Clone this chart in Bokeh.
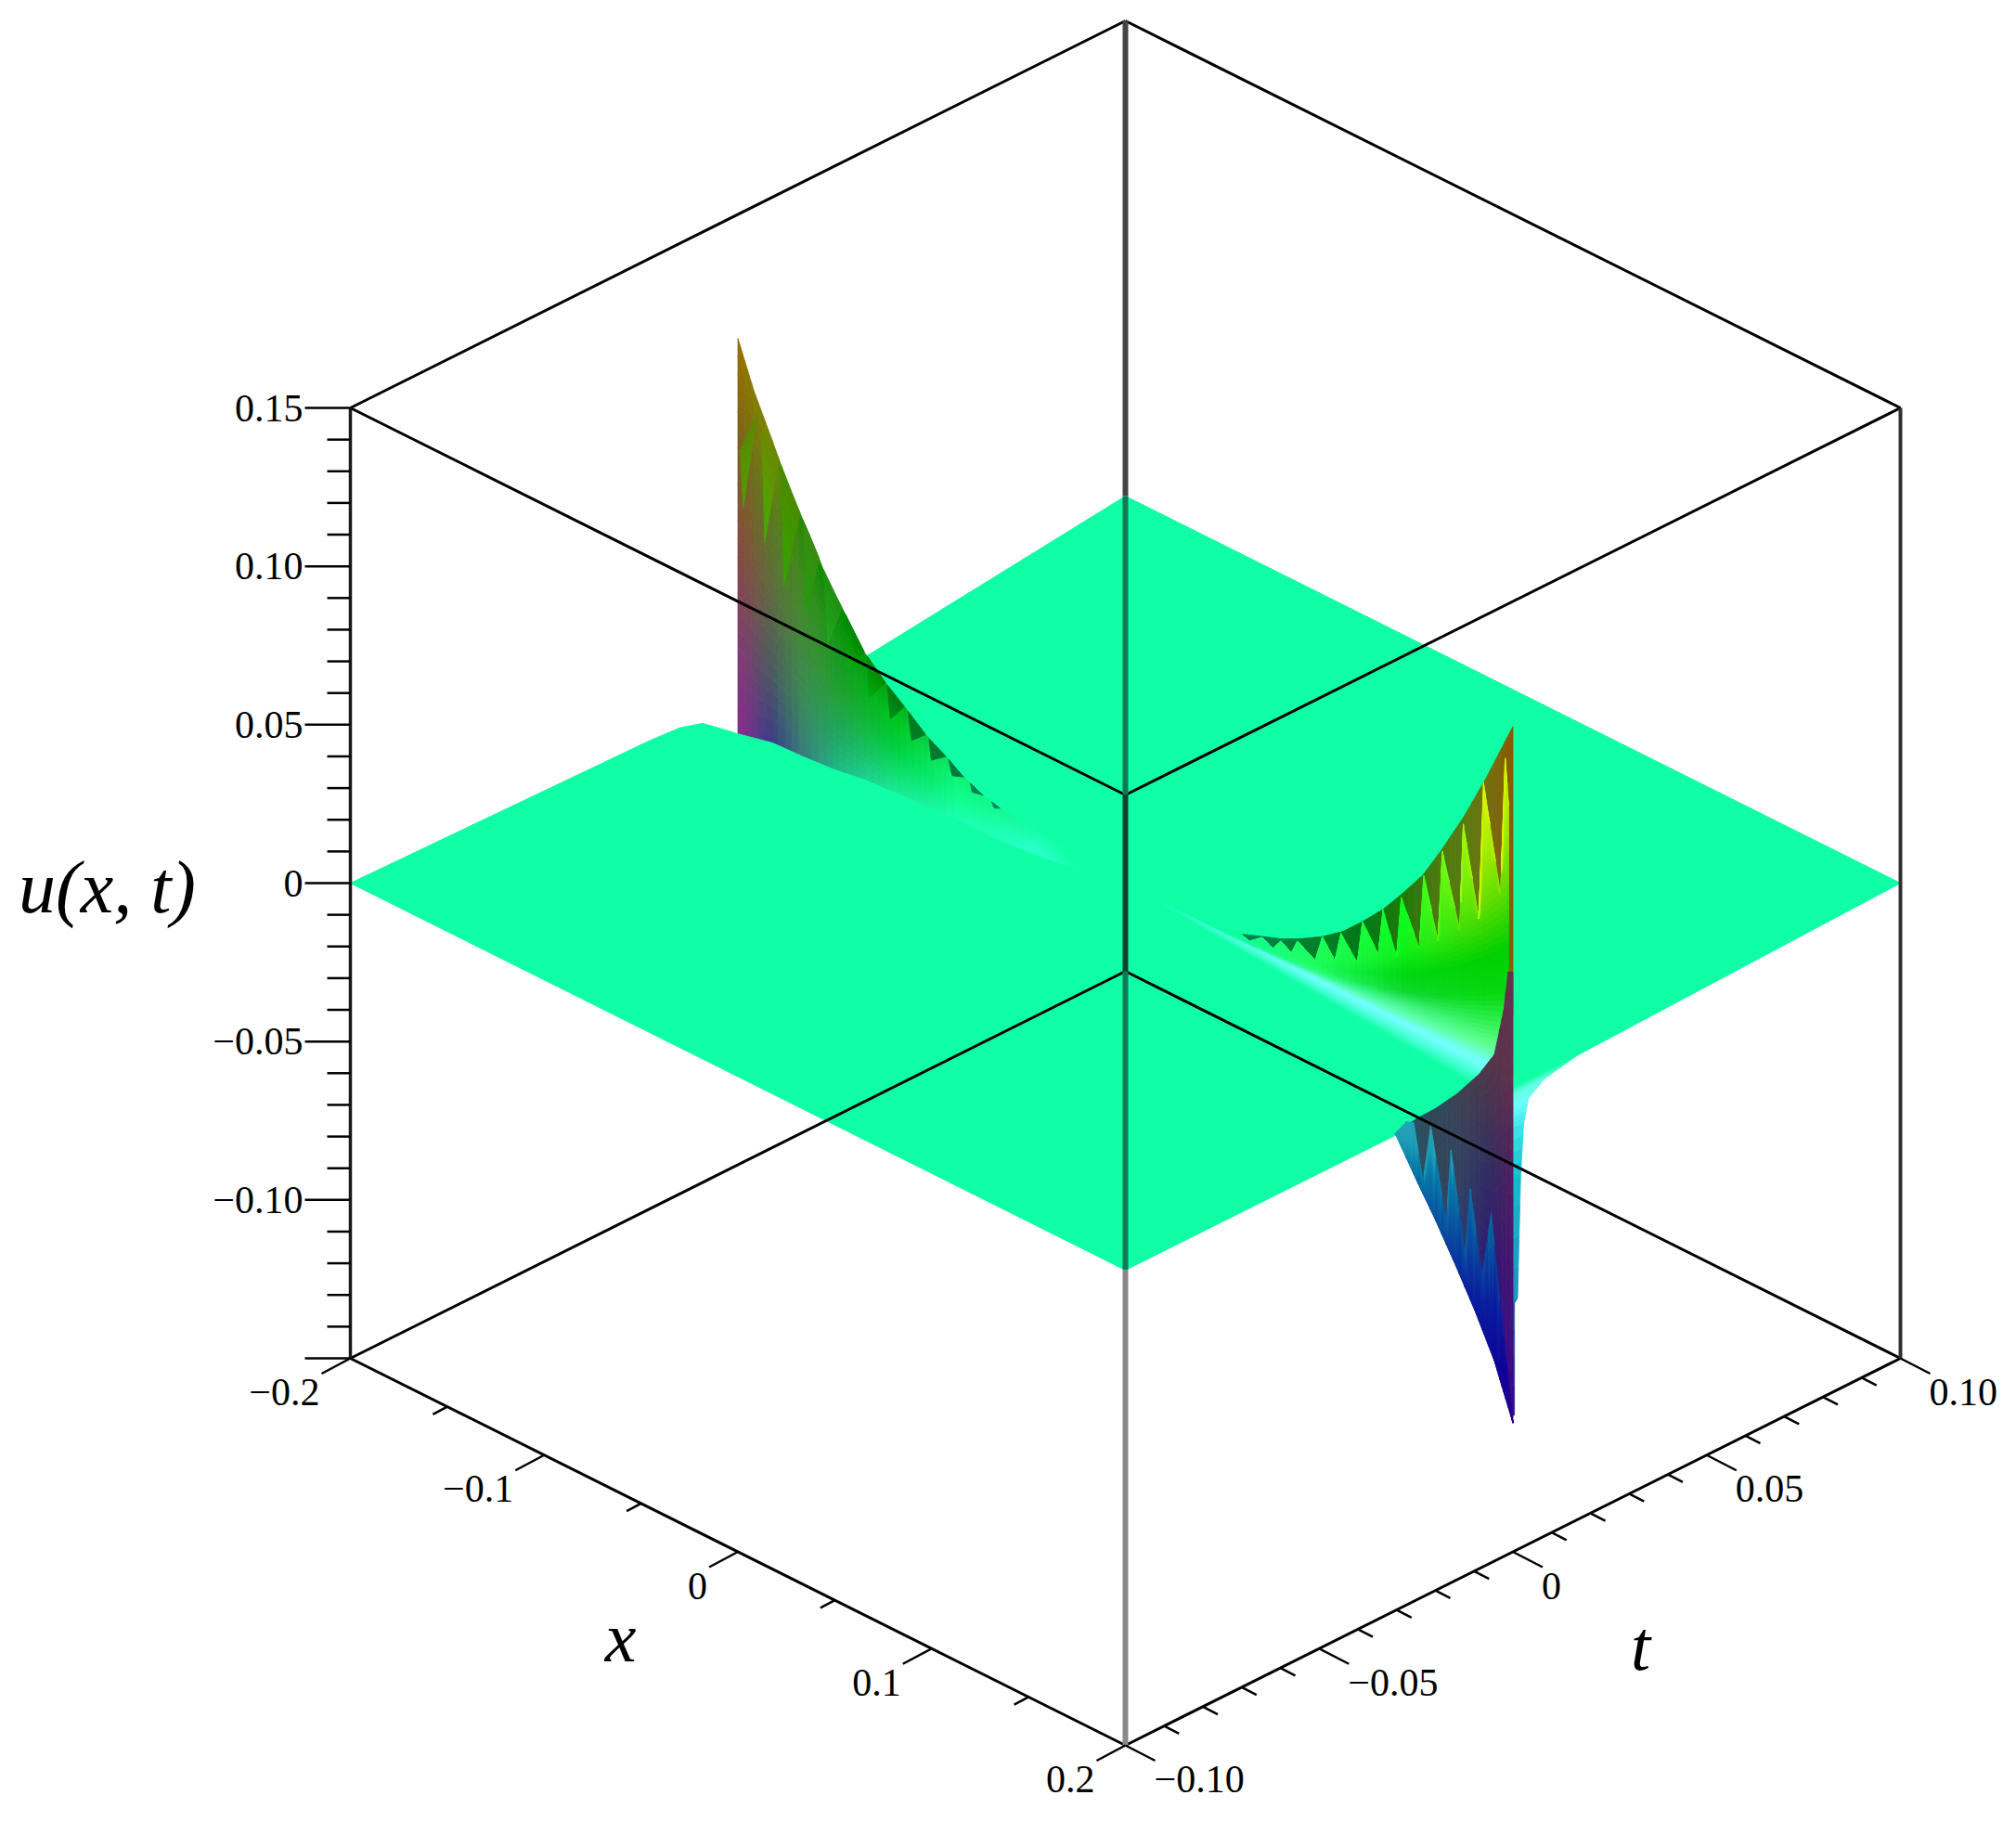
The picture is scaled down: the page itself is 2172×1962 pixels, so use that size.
from bokeh.plotting import figure
from bokeh.models import Range1d
from bokeh.embed import file_html
from bokeh.resources import INLINE
import numpy as np

# ---------- axis data ----------
x_limits = [-0.2, 0.2]
t_limits = [-0.10, 0.10]
u_limits = [-0.15, 0.15]
u_minor = [round(-0.15 + 0.01 * i, 2) for i in range(31)]
u_major = [-0.15, -0.10, -0.05, 0.0, 0.05, 0.10, 0.15]
u_labels = {0.15: "0.15", 0.10: "0.10", 0.05: "0.05", 0.0: "0", -0.05: "\u22120.05", -0.10: "\u22120.10"}
x_ticks = [-0.2, -0.15, -0.1, -0.05, 0.0, 0.05, 0.1, 0.15, 0.2]
x_labels = {-0.2: "\u22120.2", -0.1: "\u22120.1", 0.0: "0", 0.1: "0.1", 0.2: "0.2"}
t_ticks = [round(-0.10 + 0.01 * i, 2) for i in range(21)]
t_labels = {-0.10: "\u22120.10", -0.05: "\u22120.05", 0.0: "0", 0.05: "0.05", 0.10: "0.10"}

# ---------- surface data (u along the singular line t = 0) ----------
left_sil_x = [-0.2, -0.1918, -0.1823, -0.1727, -0.1631, -0.1535, -0.1439, -0.1343, -0.1247, -0.1132,
              -0.1022, -0.0926, -0.083, -0.0734, -0.0624, -0.046, -0.0221]
left_sil_u = [0.1109, 0.0969, 0.0841, 0.0707, 0.0602, 0.0484, 0.0402, 0.0314, 0.0258, 0.0205,
              0.015, 0.0117, 0.0079, 0.0053, 0.0037, 0.002, 0.0]
front_x = [-0.2, -0.1823, -0.166, -0.1501, -0.1343, -0.118, -0.1022, -0.0863, -0.07, -0.0542, -0.0384, -0.01, 0.0]
front_u = [-0.0138, -0.0114, -0.0109, -0.0101, -0.0085, -0.0078, -0.0073, -0.0066, -0.0066, -0.0059, -0.0047, -0.002, 0.0]
edge_t = [-0.1, -0.0229, -0.015, -0.0091, -0.0031, -0.0002]
edge_u = [0.0, -0.0022, -0.0029, -0.0051, -0.0109, -0.0138]
wedge_left_x = [-0.1989, -0.1877, -0.1776, -0.1664, -0.1558, -0.1445, -0.1333, -0.1229, -0.1122, -0.1014, -0.0913, -0.08, -0.069]
wedge_left_u = [0.0757, 0.0852, 0.0775, 0.0638, 0.0514, 0.0406, 0.031, 0.025, 0.02, 0.0147, 0.0112, 0.0071, 0.0046]
wedge_tip_x = [-0.1973, -0.1861, -0.1762, -0.1645, -0.1536, -0.1429, -0.1325, -0.1213, -0.1103, -0.1002, -0.0894, -0.0791, -0.0678]
wedge_tip_u = [0.0582, 0.0509, 0.04, 0.034, 0.0283, 0.0237, 0.0179, 0.0147, 0.0113, 0.0082, 0.0066, 0.0046, 0.0031]
wedge_right_x = [-0.19, -0.1792, -0.1679, -0.1581, -0.1463, -0.1349, -0.1237, -0.1141, -0.1031, -0.0926, -0.0834, -0.0734, -0.0647]
wedge_right_u = [0.0901, 0.0778, 0.0655, 0.0544, 0.0422, 0.0319, 0.0255, 0.0209, 0.0154, 0.0117, 0.008, 0.0053, 0.0039]
wedge_top_col = ["#5a8a00", "#6a8a00", "#4a8a00", "#3a8a10", "#209010", "#008800", "#008a00", "#007a10", "#007a20", "#007a30", "#007a40", "#008050", "#008858"]
wedge_tip_col = ["#50a000", "#40b000", "#30a800", "#20a010", "#20a820", "#10b010", "#00b010", "#009020", "#00802a", "#007a30", "#007a40", "#008050", "#008858"]

right_sil_x = [0.02, 0.05, 0.0595, 0.0705, 0.0801, 0.0897, 0.1017, 0.1122, 0.1223, 0.1329, 0.1424, 0.1535, 0.163, 0.1746, 0.1856, 0.2]
right_sil_u = [0.0, 0.0006, 0.0021, 0.0047, 0.0069, 0.0098, 0.0142, 0.019, 0.0252, 0.0323, 0.0399, 0.0494, 0.0601, 0.0742, 0.0892, 0.1105]
right_saw_x = [0.0595, 0.0641, 0.0705, 0.0761, 0.0801, 0.0857, 0.0888, 0.098, 0.1017, 0.1081, 0.1113, 0.1197, 0.1224, 0.1305, 0.1329,
               0.14, 0.1424, 0.1517, 0.154, 0.1613, 0.1636, 0.1725, 0.1744, 0.1824, 0.1848, 0.1936, 0.196, 0.1978, 0.198, 0.2]
right_saw_u = [0.0021, 0.0012, 0.0044, 0.0026, 0.0062, 0.0042, 0.0088, 0.0055, 0.0142, 0.0085, 0.0181, 0.0114, 0.0253, 0.0173, 0.0323,
               0.0195, 0.039, 0.0258, 0.0495, 0.0311, 0.0601, 0.0379, 0.0719, 0.0445, 0.0882, 0.0556, 0.0993, 0.085, 0.02, 0.02]
ridge_x = [0.02, 0.1, 0.19, 0.2]
ridge_low_u = [-0.001, -0.005, -0.009, -0.009]
wall_top_x = [0.1393, 0.1505, 0.16, 0.1712, 0.1824, 0.1904, 0.1952, 0.1976, 0.2]
wall_top_u = [-0.0364, -0.0283, -0.0223, -0.0142, -0.0047, 0.004, 0.0192, 0.0323, 0.033]
down_sil_x = [0.1393, 0.1506, 0.1602, 0.1712, 0.1808, 0.1904, 0.2]
down_sil_u = [-0.0365, -0.0482, -0.0576, -0.0694, -0.0803, -0.0926, -0.1093]
blue_saw_x = [0.1393, 0.145, 0.1488, 0.1536, 0.1576, 0.1656, 0.168, 0.1752, 0.178, 0.184, 0.1888, 0.1944, 0.2]
blue_saw_u = [-0.0364, -0.031, -0.0302, -0.0473, -0.0285, -0.0566, -0.0329, -0.0636, -0.0421, -0.0679, -0.0464, -0.0792, -0.1093]
band_t = [0.0167, 0.008, 0.004, 0.0028, 0.002, 0.0012, 0.0004, 0.0004]
band_u = [-0.0034, -0.0057, -0.0094, -0.0163, -0.032, -0.0706, -0.0717, -0.107]
band_col = ["#10ffa6", "#60ffe0", "#70ffff", "#40e8e8", "#10c0d0", "#2090c0", "#2060b0", "#301890"]

# ---------- colours ----------
PLANE = "#10ffa6"
left_col_x = [-0.2, -0.1823, -0.166, -0.147, -0.118, -0.0863, -0.045, -0.022]
left_col_f = [0.0, 0.25, 0.5, 0.75, 1.0]
left_cols = [["#8f2a90", "#853a70", "#8a4a3e", "#80601a", "#9a7000"],
             ["#383a8c", "#4a5a60", "#5f6a40", "#5a7a20", "#708a00"],
             ["#3a7a80", "#3a8a5a", "#3f8a3a", "#3f8a20", "#208800"],
             ["#20c090", "#20a860", "#20a030", "#109818", "#008a00"],
             ["#20f0a8", "#10e070", "#00d040", "#00c820", "#00a818"],
             ["#20ffc0", "#18ffa8", "#10ff90", "#10f880", "#10f070"],
             ["#30ffd0", "#30ffd0", "#28ffc8", "#20ffb8", "#18ffb0"],
             ["#10ffa6", "#10ffa6", "#10ffa6", "#10ffa6", "#10ffa6"]]
bright_col_x = [0.02, 0.05, 0.096, 0.144, 0.187, 0.2]
bright_col_f = [0.0, 0.07, 0.15, 0.24, 0.37, 0.55, 0.75, 1.0]
bright_cols = [["#20ffc0", "#10ffa6", "#10ffa6", "#10ffa6", "#10ffa6", "#10ffa6", "#10ffa6", "#10ffa6"],
               ["#50ffe0", "#20ffc8", "#10ffb0", "#10ffa8", "#10ffa8", "#10ffa8", "#10ffa8", "#10ffa8"],
               ["#70ffff", "#60ffd0", "#30ff90", "#28ff70", "#20ff60", "#20ff60", "#20ff60", "#20ff60"],
               ["#78ffff", "#60ffb0", "#40f080", "#10d830", "#00d810", "#10f018", "#10f820", "#10ff20"],
               ["#78ffff", "#60ff90", "#30f050", "#08d810", "#00d000", "#60dc00", "#a8ec00", "#e8f800"],
               ["#78ffff", "#60ff90", "#30f050", "#08d810", "#00d000", "#60dc00", "#a8ec00", "#e8f800"]]
back_col_x = [0.02, 0.05, 0.08, 0.096, 0.12, 0.144, 0.16, 0.178, 0.19, 0.2]
back_cols = ["#10ffa6", "#008a60", "#008040", "#00802a", "#007818", "#207a08", "#4a7a10", "#5f7a10", "#7a6a10", "#8a5a00"]
wall_col_x = [0.14, 0.16, 0.176, 0.187, 0.2]
wall_col_u = [-0.11, -0.08, -0.06, -0.03, 0.0, 0.035]
wall_cols = [["#205a70", "#205a70", "#205a70", "#205a70", "#1a5a70", "#1a5a70"],
             ["#304858", "#304858", "#304858", "#304858", "#304858", "#304858"],
             ["#2a1080", "#283a70", "#283a70", "#384060", "#4a4048", "#4a4048"],
             ["#2a0090", "#2a1080", "#301870", "#303060", "#503848", "#503848"],
             ["#3a0090", "#401080", "#451570", "#502060", "#603050", "#6a3050"]]
blue_u = [-0.11, -0.097, -0.075, -0.058, -0.045, -0.037, -0.02]
blue_cols = ["#300090", "#100098", "#0a20a0", "#0a50a0", "#0878a8", "#20a0b8", "#30a8c0"]

# ---------- projection of the box view ----------
CX, CY = 1212.0, 951.0
XV = (417.5, 208.5)
TV = (417.5, -208.5)
UV = 512.0


def P(x, t, u):
    x, t, u = np.asarray(x, float), np.asarray(t, float), np.asarray(u, float)
    return (CX + XV[0] * x / 0.2 + TV[0] * t / 0.1,
            CY + XV[1] * x / 0.2 + TV[1] * t / 0.1 - UV * u / 0.15)


def rgb(h):
    return np.array([int(h[1:3], 16), int(h[3:5], 16), int(h[5:7], 16)], float)


def to_hex(c):
    c = np.clip(np.round(c), 0, 255).astype(int)
    return "#%02x%02x%02x" % (c[0], c[1], c[2])


def table_colour(xq, rq, xs, rs, tab):
    col = []
    for row in tab:
        arr = np.array([rgb(h) for h in row])
        col.append([np.interp(rq, rs, arr[:, k]) for k in range(3)])
    col = np.array(col)
    return np.array([np.interp(xq, xs, col[:, k]) for k in range(3)])


def list_colour(q, qs, cols):
    arr = np.array([rgb(h) for h in cols])
    return np.array([np.interp(q, qs, arr[:, k]) for k in range(3)])


p = figure(width=2156, height=1946, x_range=Range1d(0, 2156), y_range=Range1d(1946, 0),
           output_backend="svg", toolbar_location=None, min_border=0)
p.axis.visible = False
p.grid.visible = False
p.outline_line_color = None
p.background_fill_color = "white"
p.border_fill_color = "white"


def draw_patches(polys, cols):
    xs, ys = [], []
    for (X, Y) in polys:
        xs.append(list(map(float, X)))
        ys.append(list(map(float, Y)))
    p.patches(xs, ys, fill_color=cols, line_color=cols, line_width=0.8)


def mesh(grid, low, high, nrows, colour, t=0.0):
    polys, cols = [], []
    for i in range(len(grid) - 1):
        x0, x1 = grid[i], grid[i + 1]
        if x1 - x0 < 1e-9:
            continue
        for j in range(nrows):
            a, b = j / nrows, (j + 1) / nrows
            l0, h0, l1, h1 = low[i], high[i], low[i + 1], high[i + 1]
            if h0 <= l0 and h1 <= l1:
                continue
            us = [l0 + (h0 - l0) * a, l1 + (h1 - l1) * a, l1 + (h1 - l1) * b, l0 + (h0 - l0) * b]
            X, Y = P([x0, x1, x1, x0], [t] * 4, us)
            polys.append((X, Y))
            cols.append(to_hex(colour((x0 + x1) / 2, np.mean(us), (a + b) / 2)))
    draw_patches(polys, cols)


# far sheet (t > 0)
far_x = [-0.2, -0.2, 0.2, 0.2, 0.2, 0.0]
far_t = [0.0, 0.1, 0.1, 0.0167, 0.0, 0.0]
far_u = [-0.0145, 0.0, 0.0, -0.0034, -0.004, -0.004]
X, Y = P(far_x, far_t, far_u)
p.patch(list(X), list(Y), fill_color=PLANE, line_color=PLANE, line_width=1)

# left raised sheet
g = np.unique(np.concatenate([left_sil_x, np.arange(-0.2, -0.02, 0.0035)]))
top = np.interp(g, left_sil_x, left_sil_u)
low = np.interp(g, front_x, front_u) - 0.002
mesh(g, low, top, 22, lambda x, u, f: table_colour(x, f, left_col_x, left_col_f, left_cols))
for i in range(len(wedge_tip_x)):
    tip = np.array([wedge_tip_x[i], wedge_tip_u[i]])
    a = np.array([wedge_left_x[i], wedge_left_u[i]])
    b = np.array([wedge_right_x[i], wedge_right_u[i]])
    polys, cols = [], []
    n = 6
    for k in range(n):
        s0, s1 = k / n, (k + 1) / n
        pts = [tip + (a - tip) * s0, tip + (b - tip) * s0, tip + (b - tip) * s1, tip + (a - tip) * s1]
        X, Y = P([q[0] for q in pts], [0.0] * 4, [q[1] for q in pts])
        polys.append((X, Y))
        mix = (s0 + s1) / 2
        cols.append(to_hex(rgb(wedge_tip_col[i]) * (1 - mix) + rgb(wedge_top_col[i]) * mix))
    draw_patches(polys, cols)

# near sheet (t < 0)
nx = [-0.2] * len(edge_t) + front_x[1:] + [0.2, 0.2]
nt = edge_t + [0.0] * (len(front_x) - 1) + [0.0, -0.1]
nu = edge_u + front_u[1:] + [0.0, 0.0]
X, Y = P(nx, nt, nu)
p.patch(list(X), list(Y), fill_color=PLANE, line_color=PLANE, line_width=1)

# right raised sheet: dark backing between silhouette and teeth
g = np.unique(np.concatenate([right_sil_x, right_saw_x, np.arange(0.02, 0.2, 0.003)]))
sil = np.interp(g, right_sil_x, right_sil_u)
saw = np.minimum(np.interp(g, right_saw_x, right_saw_u), sil)
back_low = saw - 0.0005
keep = g >= 0.05
mesh(g[keep], back_low[keep], sil[keep], 1, lambda x, u, f: list_colour(x, back_col_x, back_cols))

# bright part: fade below the ridge, then constant-fraction levels clipped by the teeth
ridge_low = np.interp(g, ridge_x, ridge_low_u)


def cyan_fade(x, u):
    cy = table_colour(x, 0.0, bright_col_x, bright_col_f, bright_cols)
    lo = float(np.interp(x, ridge_x, ridge_low_u))
    m = min(1.0, (u / lo)) ** 1.3
    return cy * (1 - m) + rgb(PLANE) * m


mesh(g, ridge_low, np.zeros_like(g), 8, lambda x, u, f: cyan_fade(x, u))
top_b = np.where(g < 0.0595, sil, saw)
levels = np.linspace(0, 1, 51) ** 1.4
polys, cols = [], []
for i in range(len(g) - 1):
    x0, x1 = g[i], g[i + 1]
    if x0 >= 0.1975:
        continue
    for j in range(len(levels) - 1):
        f0, f1 = levels[j], levels[j + 1]
        a0, a1 = f0 * sil[i], f0 * sil[i + 1]
        b0, b1 = f1 * sil[i], f1 * sil[i + 1]
        if a0 >= top_b[i] and a1 >= top_b[i + 1]:
            continue
        us = [min(a0, top_b[i]), min(a1, top_b[i + 1]), min(b1, top_b[i + 1]), min(b0, top_b[i])]
        X, Y = P([x0, x1, x1, x0], [0.0] * 4, us)
        polys.append((X, Y))
        cols.append(to_hex(table_colour((x0 + x1) / 2, (f0 + f1) / 2, bright_col_x, bright_col_f, bright_cols)))
draw_patches(polys, cols)

# band beyond the edge x = 0.2
polys, cols = [], []
for i in range(len(band_t) - 1):
    for k in range(4):
        a, b = k / 4, (k + 1) / 4
        u0 = band_u[i] + (band_u[i + 1] - band_u[i]) * a
        u1 = band_u[i] + (band_u[i + 1] - band_u[i]) * b
        t0 = band_t[i] + (band_t[i + 1] - band_t[i]) * a
        t1 = band_t[i] + (band_t[i + 1] - band_t[i]) * b
        X, Y = P([0.2] * 4, [0.0, t0, t1, 0.0], [u0, u0, u1, u1])
        polys.append((X, Y))
        cols.append(to_hex(rgb(band_col[i]) * (1 - (a + b) / 2) + rgb(band_col[i + 1]) * (a + b) / 2))
draw_patches(polys, cols)

# dark wall and downward spike
g = np.unique(np.concatenate([wall_top_x, down_sil_x, blue_saw_x, np.arange(0.1393, 0.2, 0.003)]))
wtop = np.interp(g, wall_top_x, wall_top_u)
wlow = np.interp(g, down_sil_x, down_sil_u)
mesh(g, wlow, wtop, 20, lambda x, u, f: table_colour(x, u, wall_col_x, wall_col_u, wall_cols))
bsaw = np.interp(g, blue_saw_x, blue_saw_u)
mesh(g, wlow, bsaw, 12, lambda x, u, f: list_colour(u, blue_u, blue_cols))

# ---------- box ----------
x0, x1 = x_limits
t0, t1 = t_limits
u0, u1 = u_limits
edges = [((x0, t1, u1), (x0, t0, u1)), ((x0, t1, u1), (x1, t1, u1)),
         ((x0, t0, u1), (x1, t0, u1)), ((x1, t1, u1), (x1, t0, u1)),
         ((x0, t1, u0), (x0, t0, u0)), ((x0, t1, u0), (x1, t1, u0)),
         ((x0, t0, u0), (x1, t0, u0)), ((x1, t1, u0), (x1, t0, u0))]
for a, b in edges:
    X, Y = P(*zip(a, b))
    p.line(list(X), list(Y), line_color="black", line_width=3)
X, Y = P([x0, x0], [t0, t0], [u0, u1])
p.line(list(X), list(Y), line_color="#1a1a1a", line_width=3.5)
X, Y = P([x1, x1], [t1, t1], [u0, u1])
p.line(list(X), list(Y), line_color="#303030", line_width=4)

# the two central vertical edges, as they show against the sheet
vert_segments = [((x0, t1, u1), (x0, t1, 0.0), "#444444"),
                 ((x0, t1, 0.0), (x1, t0, u1), "#107a58"),
                 ((x1, t0, u1), (x0, t1, u0), "#0f4030"),
                 ((x0, t1, u0), (x1, t0, 0.0), "#107a58"),
                 ((x1, t0, 0.0), (x1, t0, u0), "#888888")]
for a, b, c in vert_segments:
    X, Y = P(*zip(a, b))
    p.line(list(X), list(Y), line_color=c, line_width=6)

# u ticks
for v in u_minor:
    major = any(abs(v - m) < 1e-6 for m in u_major)
    X, Y = P(x0, t0, v)
    L = 49 if major else 25
    p.line([float(X) - L, float(X)], [float(Y), float(Y)], line_color="black", line_width=2.5)
lx, ly, lt = [], [], []
for v, s in u_labels.items():
    X, Y = P(x0, t0, v)
    lx.append(float(X) - 51)
    ly.append(float(Y))
    lt.append(s)
p.text(lx, ly, lt, text_font="Liberation Serif", text_font_size="42px", text_align="right",
       text_baseline="middle", text_color="black")

# x ticks
lx, ly, lt = [], [], []
for v in x_ticks:
    major = v in x_labels
    X, Y = P(v, t0, u0)
    f = 1.0 if major else 0.5
    ex, ey = float(X) - 31 * f, float(Y) + 16.5 * f
    p.line([float(X), ex], [float(Y), ey], line_color="black", line_width=2.5)
    if major:
        lx.append(ex - 2)
        ly.append(ey + 20)
        lt.append(x_labels[v])
p.text(lx, ly, lt, text_font="Liberation Serif", text_font_size="42px", text_align="right",
       text_baseline="middle", text_color="black")

# t ticks
lx, ly, lt = [], [], []
for v in t_ticks:
    major = v in t_labels
    X, Y = P(x1, v, u0)
    f = 1.0 if major else 0.5
    ex, ey = float(X) + 32 * f, float(Y) + 16.5 * f
    p.line([float(X), ex], [float(Y), ey], line_color="black", line_width=2.5)
    if major:
        lx.append(ex - 1)
        ly.append(ey + 20)
        lt.append(t_labels[v])
p.text(lx, ly, lt, text_font="Liberation Serif", text_font_size="42px", text_align="left",
       text_baseline="middle", text_color="black")

# axis titles
p.text([115], [955], ["u(x, t)"], text_font="Liberation Serif", text_font_style="italic", text_font_size="80px",
       text_align="center", text_baseline="middle", text_color="black")
p.text([668], [1763], ["x"], text_font="Liberation Serif", text_font_style="italic", text_font_size="76px",
       text_align="center", text_baseline="middle", text_color="black")
p.text([1767], [1772], ["t"], text_font="Liberation Serif", text_font_style="italic", text_font_size="76px",
       text_align="center", text_baseline="middle", text_color="black")

open("out.html", "w").write(file_html(p, INLINE))
